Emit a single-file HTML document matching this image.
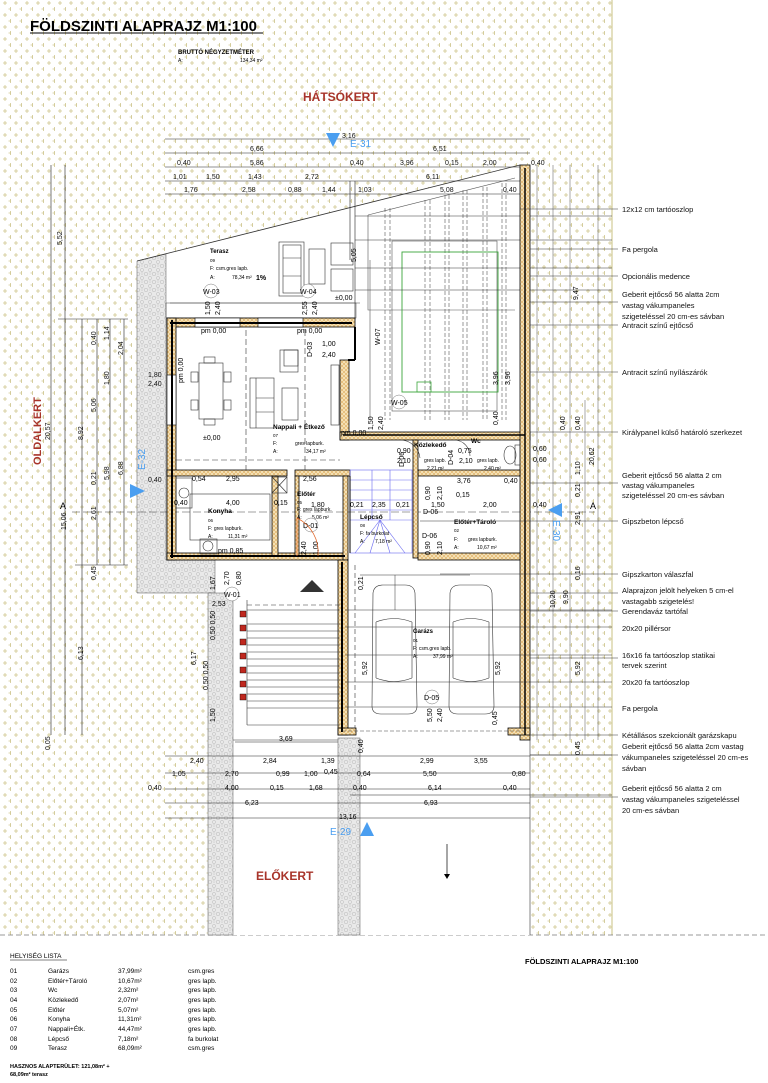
<!DOCTYPE html>
<html><head><meta charset="utf-8"><style>
html,body{margin:0;padding:0;background:#fff;}
svg{display:block;font-family:"Liberation Sans",sans-serif;}
</style></head><body>
<svg width="768" height="1083" viewBox="0 0 768 1083" xmlns="http://www.w3.org/2000/svg">
<defs>
<pattern id="dots" width="11" height="12" patternUnits="userSpaceOnUse">
<path d="M3 3h4M5 1v4" stroke="#cfc68e" stroke-width="0.8"/>
<path d="M8.5 9h4M10.5 7v4" stroke="#cfc68e" stroke-width="0.8"/>
</pattern>
<pattern id="gravel" width="8" height="8" patternUnits="userSpaceOnUse">
<rect width="8" height="8" fill="#e9e9e9"/>
<circle cx="2" cy="2" r="1.8" fill="none" stroke="#b8b8b8" stroke-width="0.5"/>
<circle cx="6" cy="6" r="1.6" fill="none" stroke="#b8b8b8" stroke-width="0.5"/>
<circle cx="6" cy="1.5" r="1" fill="none" stroke="#c4c4c4" stroke-width="0.4"/>
</pattern>
<pattern id="wall" width="4" height="4" patternUnits="userSpaceOnUse">
<rect width="4" height="4" fill="#f4e0b4"/>
<path d="M0 0L4 4M4 0L0 4" stroke="#d9a04a" stroke-width="0.5"/>
</pattern>
</defs>

<!-- background pattern -->
<rect x="0" y="0" width="612" height="935" fill="url(#dots)"/>
<line x1="612" y1="0" x2="612" y2="935" stroke="#c8c080" stroke-width="1"/>
<line x1="0" y1="935" x2="768" y2="935" stroke="#777" stroke-width="0.7" stroke-dasharray="5,3"/>

<!-- plot white areas -->
<polygon points="137,261 520,165 530,165 530,740 345,740 345,935 208,935 208,593 137,593" fill="#fff"/>
<rect x="345" y="740" width="185" height="195" fill="#fff"/>
<!-- gravel -->
<polygon points="137,261 166,254 166,560 215,560 215,593 137,593" fill="url(#gravel)" stroke="#555" stroke-width="0.5"/>
<rect x="208" y="593" width="25" height="342" fill="url(#gravel)" stroke="#555" stroke-width="0.5"/>
<rect x="338" y="738" width="22" height="197" fill="url(#gravel)" stroke="#555" stroke-width="0.5"/>
<line x1="530" y1="740" x2="530" y2="935" stroke="#333" stroke-width="0.6"/>
<line x1="137" y1="261" x2="520" y2="165" stroke="#333" stroke-width="0.8"/>

<!-- title -->
<text x="30" y="31" font-size="15" font-weight="bold">FÖLDSZINTI ALAPRAJZ  M1:100</text>
<line x1="30" y1="33" x2="263" y2="33" stroke="#000" stroke-width="1"/>
<text x="178" y="54" font-size="6" font-weight="bold">BRUTTÓ NÉGYZETMÉTER</text>
<text x="178" y="62" font-size="5">A:</text>
<text x="240" y="62" font-size="5">134,34 m²</text>
<text x="303" y="101" font-size="12" font-weight="bold" fill="#a8342a">HÁTSÓKERT</text>
<text x="256" y="880" font-size="12" font-weight="bold" fill="#a8342a">ELŐKERT</text>
<text transform="translate(41,465) rotate(-90)" font-size="11" font-weight="bold" fill="#a8342a">OLDALKERT</text>

<!-- top dimension lines -->
<g stroke="#222" stroke-width="0.6">
<line x1="165" y1="139" x2="530" y2="139"/>
<line x1="165" y1="153" x2="530" y2="153"/>
<line x1="165" y1="167" x2="530" y2="167"/>
<line x1="165" y1="181" x2="530" y2="181"/>
<line x1="165" y1="194" x2="530" y2="194"/>
<line x1="350" y1="181" x2="350" y2="260"/>
<line x1="355" y1="181" x2="355" y2="320"/>
</g>
<g font-size="7" fill="#111">
<text x="342" y="138">3,16</text>
<text x="250" y="151">6,66</text><text x="433" y="151">6,51</text>
<text x="177" y="165">0,40</text><text x="250" y="165">5,86</text><text x="350" y="165">0,40</text><text x="400" y="165">3,96</text><text x="445" y="165">0,15</text><text x="483" y="165">2,00</text><text x="531" y="165">0,40</text>
<text x="173" y="179">1,01</text><text x="206" y="179">1,50</text><text x="248" y="179">1,43</text><text x="305" y="179">2,72</text><text x="426" y="179">6,11</text>
<text x="184" y="192">1,76</text><text x="242" y="192">2,58</text><text x="288" y="192">0,88</text><text x="322" y="192">1,44</text><text x="358" y="192">1,03</text><text x="440" y="192">5,08</text><text x="503" y="192">0,40</text>
</g>

<!-- left vertical dims -->
<g stroke="#222" stroke-width="0.6">
<line x1="51" y1="165" x2="51" y2="735"/>
<line x1="65" y1="165" x2="65" y2="735"/>
<line x1="82" y1="319" x2="82" y2="735"/>
<line x1="97" y1="319" x2="97" y2="565"/>
<line x1="110" y1="319" x2="110" y2="565"/>
<line x1="124" y1="319" x2="124" y2="565"/>
<line x1="58" y1="319" x2="128" y2="319"/>
<line x1="75" y1="565" x2="128" y2="565"/>
</g>
<g font-size="7" fill="#111">
<text transform="translate(62,245) rotate(-90)">5,52</text>
<text transform="translate(50,440) rotate(-90)">20,57</text>
<text transform="translate(66,530) rotate(-90)">15,06</text>
<text transform="translate(83,440) rotate(-90)">8,92</text>
<text transform="translate(83,660) rotate(-90)">6,13</text>
<text transform="translate(96,345) rotate(-90)">0,40</text>
<text transform="translate(96,412) rotate(-90)">5,06</text>
<text transform="translate(96,485) rotate(-90)">0,21</text>
<text transform="translate(96,520) rotate(-90)">2,61</text>
<text transform="translate(96,580) rotate(-90)">0,45</text>
<text transform="translate(109,385) rotate(-90)">1,80</text>
<text transform="translate(109,480) rotate(-90)">5,98</text>
<text transform="translate(109,340) rotate(-90)">1,14</text>
<text transform="translate(123,355) rotate(-90)">2,04</text>
<text transform="translate(123,475) rotate(-90)">6,88</text>
<text transform="translate(50,750) rotate(-90)">0,05</text>
<text x="148" y="377">1,80</text><text x="148" y="386">2,40</text>
<text x="148" y="482">0,40</text>
</g>
<!-- section line A -->
<line x1="72" y1="512" x2="595" y2="512" stroke="#444" stroke-width="0.6" stroke-dasharray="8,3"/>
<text x="60" y="509" font-size="9">A</text>
<text x="590" y="509" font-size="9">A</text>

<!-- terrace -->
<rect x="166" y="303" width="190" height="15" fill="none" stroke="#444" stroke-width="0.5"/>
<line x1="170" y1="303" x2="360" y2="303" stroke="#444" stroke-width="0.6"/>
<g fill="none" stroke="#333" stroke-width="0.6">
<rect x="279" y="242" width="25" height="54"/><rect x="283" y="245" width="18" height="48"/>
<line x1="283" y1="258" x2="301" y2="258"/><line x1="283" y1="276" x2="301" y2="276"/>
<rect x="309" y="249" width="16" height="35"/>
<rect x="331" y="243" width="22" height="22"/><rect x="331" y="269" width="22" height="22"/>
</g>
<text x="210" y="253" font-size="6" font-weight="bold">Terasz</text>
<text x="210" y="262" font-size="4.5">09</text>
<text x="210" y="270" font-size="5">F: csm.gres lapb.</text>
<text x="210" y="279" font-size="5">A:</text><text x="232" y="279" font-size="5">78,34 m²</text>
<text x="256" y="280" font-size="7" font-weight="bold">1%</text>
<g font-size="7">
<circle cx="211" cy="291" r="7" fill="#fff" stroke="#777" stroke-width="0.5"/><text x="203" y="294">W-03</text>
<circle cx="308" cy="291" r="7" fill="#fff" stroke="#777" stroke-width="0.5"/><text x="300" y="294">W-04</text>
<text x="335" y="300">±0,00</text>
<text transform="translate(210,315) rotate(-90)">1,50</text>
<text transform="translate(220,315) rotate(-90)">2,40</text>
<text transform="translate(307,315) rotate(-90)">2,55</text>
<text transform="translate(317,315) rotate(-90)">2,40</text>
<text transform="translate(356,262) rotate(-90)">5,05</text>
</g>

<!-- pergola / pool -->
<g fill="none" stroke="#555" stroke-width="0.6">
<polyline points="370,260 370,420"/>
<polyline points="368,215 368,310 515,310"/>
<line x1="368" y1="215" x2="515" y2="178"/>
<g stroke-dasharray="4,2">
<line x1="385" y1="208" x2="385" y2="420"/><line x1="390" y1="208" x2="390" y2="420"/>
<line x1="425" y1="200" x2="425" y2="420"/><line x1="430" y1="200" x2="430" y2="420"/>
<line x1="445" y1="195" x2="445" y2="420"/><line x1="449" y1="195" x2="449" y2="420"/>
<line x1="463" y1="190" x2="463" y2="420"/><line x1="467" y1="190" x2="467" y2="420"/>
<line x1="483" y1="187" x2="483" y2="420"/><line x1="487" y1="187" x2="487" y2="420"/>
<line x1="502" y1="183" x2="502" y2="420"/><line x1="506" y1="183" x2="506" y2="420"/>
</g>
<rect x="392" y="241" width="105" height="170"/>
</g>
<rect x="402" y="252" width="96" height="140" fill="none" stroke="#3aa63a" stroke-width="0.9"/>
<rect x="417" y="382" width="14" height="10" fill="none" stroke="#3aa63a" stroke-width="0.8"/>
<g stroke="#333" stroke-width="0.5"><line x1="355" y1="240" x2="612" y2="240"/><line x1="355" y1="268" x2="612" y2="268"/><line x1="355" y1="290" x2="612" y2="290"/><line x1="355" y1="216" x2="612" y2="216"/></g>
<text transform="translate(498,385) rotate(-90)" font-size="7">3,96</text>
<text transform="translate(510,385) rotate(-90)" font-size="7">3,96</text>
<text transform="translate(498,425) rotate(-90)" font-size="7">0,40</text>
<circle cx="399" cy="402" r="7" fill="#fff" stroke="#777" stroke-width="0.5"/><text x="391" y="405" font-size="7">W-05</text>
<text transform="translate(373,430) rotate(-90)" font-size="7">1,50</text>
<text transform="translate(383,430) rotate(-90)" font-size="7">2,40</text>

<!-- walls -->
<g fill="url(#wall)" stroke="#000" stroke-width="0.8">
<rect x="167" y="318" width="188" height="9"/>
<rect x="167" y="318" width="9" height="242"/>
<rect x="340" y="360" width="9" height="80"/>
<rect x="340" y="432" width="190" height="8"/>
<rect x="520" y="165" width="10" height="575"/>
<rect x="167" y="470" width="120" height="6"/>
<rect x="295" y="470" width="55" height="6"/>
<rect x="418" y="470" width="102" height="6"/>
<rect x="167" y="553" width="180" height="7"/>
<rect x="272" y="476" width="6" height="80"/>
<rect x="295" y="476" width="4" height="80"/>
<rect x="343" y="476" width="5" height="84"/>
<rect x="413" y="440" width="5" height="118"/>
<rect x="418" y="553" width="102" height="7"/>
<rect x="338" y="560" width="10" height="175"/>
<rect x="338" y="728" width="18" height="7"/>
<rect x="508" y="728" width="22" height="7"/>
</g>
<!-- windows -->
<g fill="#fff" stroke="#000" stroke-width="0.6">
<rect x="195" y="318" width="45" height="9"/>
<rect x="258" y="318" width="45" height="9"/>
<rect x="167" y="375" width="9" height="50"/>
</g>
<line x1="355" y1="327" x2="355" y2="360" stroke="#000" stroke-width="2"/>
<line x1="348" y1="360" x2="355" y2="360" stroke="#000" stroke-width="2"/>
<line x1="170" y1="323" x2="352" y2="323" stroke="#000" stroke-width="2"/>
<line x1="172" y1="320" x2="172" y2="558" stroke="#000" stroke-width="2"/>
<line x1="525" y1="168" x2="525" y2="735" stroke="#000" stroke-width="1.5"/>
<line x1="343" y1="435" x2="525" y2="435" stroke="#000" stroke-width="1.5"/>
<line x1="170" y1="556" x2="345" y2="556" stroke="#000" stroke-width="2"/>
<line x1="342" y1="562" x2="342" y2="732" stroke="#000" stroke-width="2"/>
<line x1="342" y1="731" x2="525" y2="731" stroke="#444" stroke-width="0.6" stroke-dasharray="4,2"/>

<!-- living room furniture -->
<g fill="none" stroke="#333" stroke-width="0.6">
<rect x="199" y="363" width="24" height="56"/>
<rect x="204" y="357" width="11" height="6"/><rect x="204" y="419" width="11" height="6"/>
<rect x="191" y="372" width="7" height="10"/><rect x="191" y="400" width="7" height="10"/>
<rect x="224" y="372" width="7" height="10"/><rect x="224" y="400" width="7" height="10"/>
<rect x="250" y="378" width="24" height="50"/><line x1="256" y1="378" x2="256" y2="428"/><line x1="256" y1="398" x2="274" y2="398"/><line x1="256" y1="412" x2="274" y2="412"/>
<rect x="282" y="388" width="16" height="32"/>
<rect x="280" y="350" width="18" height="22"/><rect x="284" y="350" width="14" height="16"/>
<rect x="331" y="365" width="8" height="60"/>
<line x1="246" y1="330" x2="246" y2="470" stroke-dasharray="6,3"/>
<line x1="305" y1="330" x2="305" y2="470" stroke-dasharray="6,3"/>
<line x1="176" y1="460" x2="340" y2="460" stroke-dasharray="6,3"/>
</g>
<g font-size="7">
<text x="201" y="333">pm 0,00</text><text x="297" y="333">pm 0,00</text>
<text transform="translate(183,383) rotate(-90)">pm 0,00</text>
<text x="203" y="440">±0,00</text>
<text x="273" y="429" font-weight="bold" font-size="6.5">Nappali + Étkező</text>
<text x="273" y="437" font-size="4.5">07</text>
<text x="273" y="445" font-size="5">F:</text><text x="295" y="445" font-size="5">gres lapburk.</text>
<text x="273" y="453" font-size="5">A:</text><text x="306" y="453" font-size="5">34,17 m²</text>
<text x="322" y="346">1,00</text><text x="322" y="357">2,40</text>
<text transform="translate(312,357) rotate(-90)">D-03</text>
<text x="341" y="435">pm 0,00</text>
<text transform="translate(380,345) rotate(-90)">W-07</text>
</g>

<!-- kitchen -->
<g fill="none" stroke="#333" stroke-width="0.6">
<rect x="176" y="478" width="16" height="30"/><circle cx="184" cy="493" r="5"/>
<rect x="190" y="494" width="80" height="46"/>
<rect x="272" y="477" width="15" height="16"/><line x1="272" y1="477" x2="287" y2="493"/><line x1="287" y1="477" x2="272" y2="493"/>
<rect x="200" y="539" width="17" height="15"/><circle cx="208" cy="546" r="5"/>
</g>
<g font-size="7">
<text x="192" y="481">0,54</text><text x="226" y="481">2,95</text><text x="303" y="481">2,56</text>
<text x="174" y="505">0,40</text><text x="226" y="505">4,00</text><text x="274" y="505">0,15</text>
<text x="208" y="513" font-weight="bold" font-size="6.5">Konyha</text>
<text x="208" y="522" font-size="4.5">06</text>
<text x="208" y="530" font-size="5">F: gres lapburk.</text>
<text x="208" y="538" font-size="5">A:</text><text x="228" y="538" font-size="5">11,31 m²</text>
<text x="218" y="553">pm 0,85</text>
</g>
<!-- entrance -->
<g font-size="7">
<text x="297" y="496" font-weight="bold" font-size="6.5">Előtér</text>
<text x="297" y="504" font-size="4.5">05</text>
<text x="311" y="507">1,80</text>
<text x="297" y="511" font-size="5">F: gres lapburk.</text>
<text x="297" y="519" font-size="5">A:</text><text x="312" y="519" font-size="5">5,06 m²</text>
<circle cx="311" cy="525" r="7" fill="#fff" stroke="#777" stroke-width="0.5"/><text x="303" y="528">D-01</text>
<text transform="translate(306,555) rotate(-90)">2,40</text>
<text transform="translate(318,555) rotate(-90)">1,00</text>
</g>
<path d="M297 556 L297 518 A38 38 0 0 1 318 556" fill="none" stroke="#e06020" stroke-width="0.7"/>

<!-- stairs -->
<g stroke="#6a6af0" stroke-width="0.6" fill="none">
<rect x="350" y="470" width="62" height="83"/>
<line x1="350" y1="480" x2="412" y2="480"/><line x1="350" y1="490" x2="412" y2="490"/><line x1="350" y1="500" x2="412" y2="500"/><line x1="350" y1="510" x2="412" y2="510"/><line x1="350" y1="520" x2="412" y2="520"/>
<line x1="372" y1="470" x2="372" y2="520"/><line x1="390" y1="470" x2="390" y2="520"/>
<line x1="380" y1="520" x2="355" y2="553"/><line x1="380" y1="520" x2="370" y2="553"/><line x1="380" y1="520" x2="390" y2="553"/><line x1="380" y1="520" x2="405" y2="553"/>
</g>
<g font-size="7">
<text x="350" y="507">0,21</text><text x="372" y="507">2,35</text><text x="396" y="507">0,21</text>
<text x="360" y="519" font-weight="bold" font-size="6.5">Lépcső</text>
<text x="360" y="527" font-size="4.5">08</text>
<text x="360" y="535" font-size="5">F: fa burkolat</text>
<text x="360" y="543" font-size="5">A:</text><text x="375" y="543" font-size="5">7,18 m²</text>
</g>
<!-- corridor / wc / storage -->
<g font-size="7">
<text transform="translate(404,467) rotate(-90)">D-06</text>
<text x="397" y="453">0,90</text><text x="397" y="463">2,10</text>
<text x="414" y="447" font-weight="bold" font-size="6.5">Közlekedő</text>
<text x="424" y="462" font-size="5">gres lapb.</text><text x="427" y="470" font-size="5">2,21 m²</text>
<text transform="translate(453,465) rotate(-90)">D-04</text>
<text x="458" y="453">0,75</text><text x="459" y="463">2,10</text>
<text x="471" y="443" font-weight="bold" font-size="6.5">Wc</text>
<text x="477" y="462" font-size="5">gres lapb.</text><text x="484" y="470" font-size="5">2,40 m²</text>
<text x="457" y="483">3,76</text><text x="504" y="483">0,40</text>
<text x="456" y="497">0,15</text>
<text x="431" y="507">1,50</text><text x="483" y="507">2,00</text>
<text x="423" y="514">D-06</text>
<text x="454" y="524" font-weight="bold" font-size="6.5">Előtér+Tároló</text>
<text x="454" y="532" font-size="4.5">02</text>
<text x="454" y="541" font-size="5">F:</text><text x="468" y="541" font-size="5">gres lapburk.</text>
<text x="454" y="549" font-size="5">A:</text><text x="477" y="549" font-size="5">10,67 m²</text>
<text x="422" y="538">D-06</text>
<text transform="translate(430,555) rotate(-90)">0,90</text>
<text transform="translate(442,555) rotate(-90)">2,10</text>
<text transform="translate(430,500) rotate(-90)">0,90</text>
<text transform="translate(442,500) rotate(-90)">2,10</text>
<text x="533" y="451">0,60</text><text x="533" y="462">0,60</text>
<text x="533" y="507">0,40</text>
</g>
<g fill="none" stroke="#333" stroke-width="0.6">
<path d="M400 440 A20 20 0 0 1 420 458"/>
<path d="M455 440 A16 16 0 0 1 470 456"/>
<ellipse cx="510" cy="455" rx="6" ry="9"/><rect x="515" y="445" width="5" height="20"/>
<line x1="350" y1="476" x2="350" y2="553" stroke="#000" stroke-width="1"/>
</g>

<!-- garage -->
<g fill="none" stroke="#333" stroke-width="0.6">
<path d="M373 593 Q374 585 383 585 L405 585 Q414 585 415 593 L417 706 Q417 714 408 714 L381 714 Q372 714 372 706 Z"/>
<path d="M376 622 Q394 615 412 622 M376 678 Q394 685 412 678"/>
<line x1="376" y1="622" x2="376" y2="678"/><line x1="412" y1="622" x2="412" y2="678"/>
<path d="M450 593 Q451 585 460 585 L482 585 Q491 585 492 593 L494 706 Q494 714 485 714 L458 714 Q449 714 449 706 Z"/>
<path d="M453 622 Q471 615 489 622 M453 678 Q471 685 489 678"/>
<line x1="453" y1="622" x2="453" y2="678"/><line x1="489" y1="622" x2="489" y2="678"/>
<line x1="355" y1="565" x2="355" y2="728" stroke-dasharray="5,3"/>
</g>
<g stroke="#333" stroke-width="0.5">
<line x1="345" y1="610" x2="612" y2="610"/><line x1="345" y1="627" x2="612" y2="627"/>
<line x1="345" y1="655" x2="612" y2="655"/><line x1="345" y1="682" x2="612" y2="682"/>
<line x1="345" y1="707" x2="612" y2="707"/>
<line x1="395" y1="575" x2="395" y2="610"/><line x1="360" y1="575" x2="470" y2="575"/>
</g>
<g font-size="7">
<text x="413" y="633" font-weight="bold" font-size="6">Garázs</text>
<text x="413" y="642" font-size="4.5">01</text>
<text x="413" y="650" font-size="5">F: csm.gres lapb.</text>
<text x="413" y="658" font-size="5">A:</text><text x="433" y="658" font-size="5">37,99 m²</text>
<circle cx="432" cy="697" r="7" fill="#fff" stroke="#777" stroke-width="0.5"/><text x="424" y="700">D-05</text>
<text transform="translate(367,675) rotate(-90)">5,92</text>
<text transform="translate(500,675) rotate(-90)">5,92</text>
<text transform="translate(432,722) rotate(-90)">5,50</text>
<text transform="translate(442,722) rotate(-90)">2,40</text>
<text transform="translate(497,725) rotate(-90)">0,45</text>
<text transform="translate(363,590) rotate(-90)">0,21</text>
</g>

<!-- driveway / steps -->
<g stroke="#333" stroke-width="0.6">
<line x1="247" y1="610" x2="340" y2="610"/>
<line x1="247" y1="605" x2="340" y2="605" stroke-dasharray="5,3"/>
<line x1="247" y1="624" x2="340" y2="624"/><line x1="247" y1="631" x2="340" y2="631"/>
<line x1="247" y1="638" x2="340" y2="638"/><line x1="247" y1="645" x2="340" y2="645"/>
<line x1="247" y1="652" x2="340" y2="652"/><line x1="247" y1="659" x2="340" y2="659"/>
<line x1="247" y1="666" x2="340" y2="666"/><line x1="247" y1="673" x2="340" y2="673"/>
<line x1="247" y1="680" x2="340" y2="680"/><line x1="247" y1="687" x2="340" y2="687"/>
<line x1="247" y1="694" x2="340" y2="694"/><line x1="247" y1="701" x2="340" y2="701"/>
<line x1="247" y1="708" x2="340" y2="708"/>
<line x1="247" y1="600" x2="247" y2="725"/>
<line x1="247" y1="725" x2="340" y2="725"/>
<line x1="233" y1="740" x2="338" y2="740"/>
</g>
<g fill="#c0281f" stroke="#000" stroke-width="0.4">
<rect x="240" y="611" width="6" height="6"/><rect x="240" y="625" width="6" height="6"/><rect x="240" y="639" width="6" height="6"/>
<rect x="240" y="653" width="6" height="6"/><rect x="240" y="667" width="6" height="6"/><rect x="240" y="681" width="6" height="6"/><rect x="240" y="694" width="6" height="6"/>
</g>
<polygon points="300,592 312,580 324,592" fill="#333"/>
<g font-size="7">
<circle cx="232" cy="594" r="7" fill="#fff" stroke="#777" stroke-width="0.5"/><text x="224" y="597">W-01</text>
<text x="212" y="606">2,53</text>
<text transform="translate(196,665) rotate(-90)">6,17</text>
<text transform="translate(215,640) rotate(-90)">0,50 0,50</text>
<text transform="translate(208,690) rotate(-90)">0,50 0,50</text>
<text transform="translate(215,722) rotate(-90)">1,50</text>
<text transform="translate(215,590) rotate(-90)">1,67</text>
<text transform="translate(229,585) rotate(-90)">2,70</text>
<text transform="translate(241,585) rotate(-90)">0,80</text>
</g>

<!-- bottom dims -->
<g stroke="#222" stroke-width="0.6">
<line x1="235" y1="742" x2="338" y2="742"/>
<line x1="165" y1="756" x2="530" y2="756"/>
<line x1="165" y1="773" x2="530" y2="773"/>
<line x1="165" y1="789" x2="530" y2="789"/>
<line x1="165" y1="803" x2="530" y2="803"/>
<line x1="165" y1="818" x2="530" y2="818"/>
<line x1="350" y1="795" x2="612" y2="795"/>
<line x1="530" y1="755" x2="612" y2="755"/>
</g>
<g font-size="7">
<text x="279" y="741">3,69</text>
<text transform="translate(363,753) rotate(-90)">0,40</text>
<text x="190" y="763">2,40</text><text x="263" y="763">2,84</text><text x="321" y="763">1,39</text><text x="420" y="763">2,99</text><text x="474" y="763">3,55</text>
<text x="172" y="776">1,05</text><text x="225" y="776">2,70</text><text x="276" y="776">0,99</text><text x="304" y="776">1,00</text><text x="324" y="774">0,45</text><text x="357" y="776">0,64</text><text x="423" y="776">5,50</text><text x="512" y="776">0,80</text>
<text x="148" y="790">0,40</text><text x="225" y="790">4,00</text><text x="270" y="790">0,15</text><text x="309" y="790">1,68</text><text x="353" y="790">0,40</text><text x="428" y="790">6,14</text><text x="503" y="790">0,40</text>
<text x="245" y="805">6,23</text><text x="424" y="805">6,93</text>
<text x="339" y="819">13,16</text>
</g>
<line x1="447" y1="844" x2="447" y2="876" stroke="#000" stroke-width="0.7"/>
<polygon points="444,874 450,874 447,879" fill="#000"/>

<!-- right vertical dims -->
<g stroke="#555" stroke-width="0.5">
<line x1="537" y1="165" x2="537" y2="740"/>
<line x1="553" y1="165" x2="553" y2="740"/>
<line x1="570" y1="165" x2="570" y2="740"/>
<line x1="585" y1="400" x2="585" y2="740"/>
<line x1="598" y1="165" x2="598" y2="740"/>
</g>
<g font-size="7">
<text transform="translate(578,300) rotate(-90)">9,47</text>
<text transform="translate(594,465) rotate(-90)">20,62</text>
<text transform="translate(565,430) rotate(-90)">0,40</text>
<text transform="translate(580,430) rotate(-90)">0,40</text>
<text transform="translate(580,475) rotate(-90)">1,10</text>
<text transform="translate(580,497) rotate(-90)">0,21</text>
<text transform="translate(580,525) rotate(-90)">2,91</text>
<text transform="translate(580,580) rotate(-90)">0,16</text>
<text transform="translate(555,608) rotate(-90)">10,20</text>
<text transform="translate(568,604) rotate(-90)">9,90</text>
<text transform="translate(580,675) rotate(-90)">5,92</text>
<text transform="translate(580,755) rotate(-90)">0,45</text>
</g>

<!-- annotation leaders -->
<g stroke="#333" stroke-width="0.5">
<line x1="520" y1="209" x2="618" y2="209"/><line x1="530" y1="249" x2="618" y2="249"/>
<line x1="530" y1="276" x2="618" y2="276"/><line x1="530" y1="302" x2="618" y2="302"/>
<line x1="530" y1="325" x2="618" y2="325"/><line x1="530" y1="372" x2="618" y2="372"/>
<line x1="530" y1="432" x2="618" y2="432"/><line x1="530" y1="483" x2="618" y2="483"/>
<line x1="420" y1="521" x2="618" y2="521"/><line x1="440" y1="574" x2="618" y2="574"/>
<line x1="530" y1="593" x2="618" y2="593"/><line x1="530" y1="611" x2="618" y2="611"/>
<line x1="530" y1="658" x2="618" y2="658"/><line x1="530" y1="735" x2="618" y2="735"/>
<line x1="530" y1="755" x2="618" y2="755"/><line x1="530" y1="797" x2="618" y2="797"/>
</g>
<g font-size="7.5" fill="#111">
<text x="622" y="212">12x12 cm tartóoszlop</text>
<text x="622" y="252">Fa pergola</text>
<text x="622" y="279">Opcionális medence</text>
<text x="622" y="297">Geberit ejtőcső 56 alatta 2cm</text>
<text x="622" y="308">vastag vákumpaneles</text>
<text x="622" y="319">szigeteléssel 20 cm-es sávban</text>
<text x="622" y="328">Antracit színű ejtőcső</text>
<text x="622" y="375">Antracit színű nyílászárók</text>
<text x="622" y="435">Királypanel külső határoló szerkezet</text>
<text x="622" y="478">Geberit ejtőcső 56 alatta 2 cm</text>
<text x="622" y="488">vastag vákumpaneles</text>
<text x="622" y="498">szigeteléssel 20 cm-es sávban</text>
<text x="622" y="524">Gipszbeton lépcső</text>
<text x="622" y="577">Gipszkarton válaszfal</text>
<text x="622" y="593">Alaprajzon jelölt helyeken 5 cm-el</text>
<text x="622" y="604">vastagabb szigetelés!</text>
<text x="622" y="614">Gerendaváz tartófal</text>
<text x="622" y="631">20x20 pillérsor</text>
<text x="622" y="658">16x16 fa tartóoszlop statikai</text>
<text x="622" y="668">tervek szerint</text>
<text x="622" y="685">20x20 fa tartóoszlop</text>
<text x="622" y="711">Fa pergola</text>
<text x="622" y="738">Kétállásos szekcionált garázskapu</text>
<text x="622" y="749">Geberit ejtőcső 56 alatta 2cm vastag</text>
<text x="622" y="760">vákumpaneles szigeteléssel 20 cm-es</text>
<text x="622" y="771">sávban</text>
<text x="622" y="791">Geberit ejtőcső 56 alatta 2 cm</text>
<text x="622" y="802">vastag vákumpaneles szigeteléssel</text>
<text x="622" y="813">20 cm-es sávban</text>
</g>

<!-- section markers -->
<g fill="#4a9ef0">
<polygon points="326,133 340,133 333,147"/>
<text x="350" y="147" font-size="10">E-31</text>
<polygon points="130,484 130,498 145,491"/>
<text transform="translate(145,470) rotate(-90)" font-size="10">E-32</text>
<polygon points="562,503 562,517 548,510"/>
<text transform="translate(553,520) rotate(90)" font-size="10">E-30</text>
<polygon points="360,836 374,836 367,822"/>
<text x="330" y="835" font-size="10">E-29</text>
</g>

<!-- legend -->
<text x="10" y="958" font-size="6.5">HELYISÉG LISTA</text>
<line x1="10" y1="960" x2="67" y2="960" stroke="#000" stroke-width="0.5"/>
<g font-size="6.5">
<text x="10" y="973">01</text><text x="48" y="973">Garázs</text><text x="118" y="973">37,99m²</text><text x="188" y="973">csm.gres</text>
<text x="10" y="983">02</text><text x="48" y="983">Előtér+Tároló</text><text x="118" y="983">10,67m²</text><text x="188" y="983">gres lapb.</text>
<text x="10" y="992">03</text><text x="48" y="992">Wc</text><text x="118" y="992">2,32m²</text><text x="188" y="992">gres lapb.</text>
<text x="10" y="1002">04</text><text x="48" y="1002">Közlekedő</text><text x="118" y="1002">2,07m²</text><text x="188" y="1002">gres lapb.</text>
<text x="10" y="1012">05</text><text x="48" y="1012">Előtér</text><text x="118" y="1012">5,07m²</text><text x="188" y="1012">gres lapb.</text>
<text x="10" y="1021">06</text><text x="48" y="1021">Konyha</text><text x="118" y="1021">11,31m²</text><text x="188" y="1021">gres lapb.</text>
<text x="10" y="1031">07</text><text x="48" y="1031">Nappali+Étk.</text><text x="118" y="1031">44,47m²</text><text x="188" y="1031">gres lapb.</text>
<text x="10" y="1041">08</text><text x="48" y="1041">Lépcső</text><text x="118" y="1041">7,18m²</text><text x="188" y="1041">fa burkolat</text>
<text x="10" y="1050">09</text><text x="48" y="1050">Terasz</text><text x="118" y="1050">68,09m²</text><text x="188" y="1050">csm.gres</text>
</g>
<text x="10" y="1068" font-size="5.5" font-weight="bold">HASZNOS ALAPTERÜLET: 121,08m² +</text>
<text x="10" y="1076" font-size="5.5" font-weight="bold">68,09m² terasz</text>
<text x="525" y="964" font-size="7.5" font-weight="bold">FÖLDSZINTI ALAPRAJZ  M1:100</text>
</svg>
</body></html>
